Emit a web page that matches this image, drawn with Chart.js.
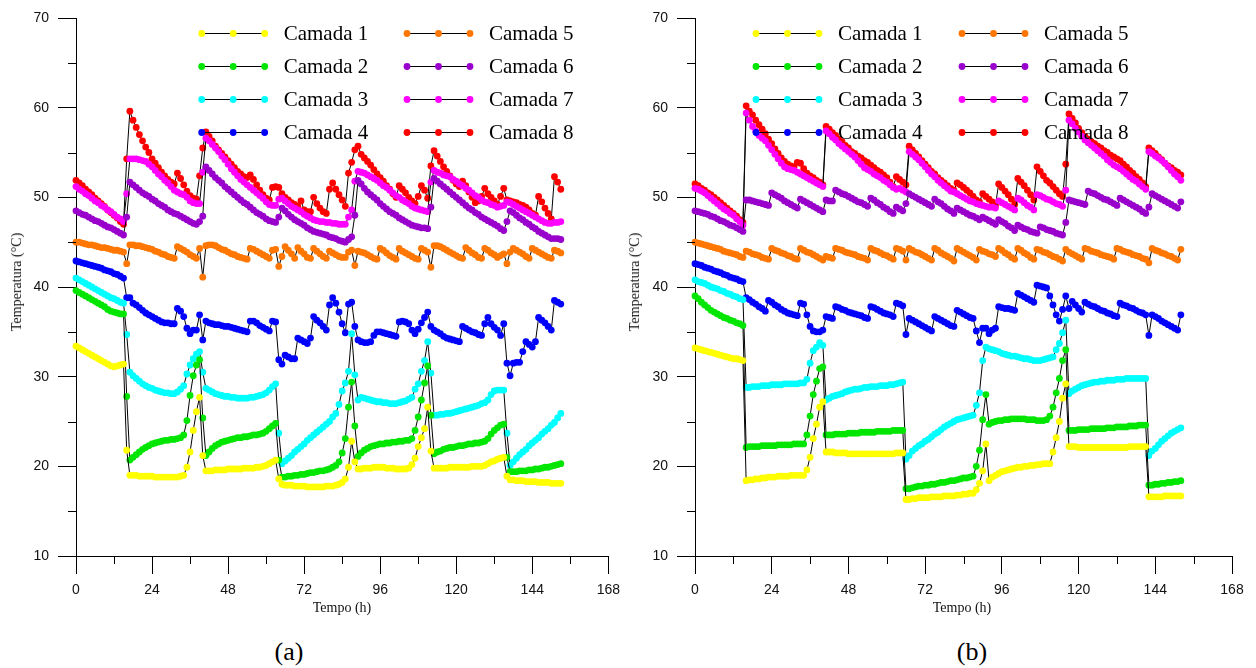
<!DOCTYPE html>
<html lang="pt">
<head>
    <meta charset="UTF-8">
    <title>Temperatura das camadas</title>
    <!-- Chart.js -->
    <script src="https://cdn.jsdelivr.net/npm/chart.js"></script>
    <style>
        body {
            margin: 0;
            background-color: #ffffff;
        }
        #pagina {
            position: relative;
            width: 1256px;
            height: 668px;
            overflow: hidden;
            background: #ffffff;
        }
        .painel {
            position: absolute;
            top: 0;
            width: 628px;
            height: 620px;
        }
        #painelA { left: 0; }
        #painelB { left: 628px; }
        .titulo-y {
            position: absolute;
            top: 282px;
            font-family: "Liberation Serif", "Times New Roman", serif;
            font-size: 14px;
            color: #111;
            white-space: nowrap;
            transform: translate(-50%, -50%) rotate(-90deg);
        }
        .titulo-x {
            position: absolute;
            top: 608px;
            font-family: "Liberation Serif", "Times New Roman", serif;
            font-size: 14px;
            color: #111;
            white-space: nowrap;
            transform: translate(-50%, -50%);
        }
        .legenda-painel {
            position: absolute;
            top: 652px;
            font-family: "Liberation Serif", "Times New Roman", serif;
            font-size: 26px;
            color: #000;
            transform: translate(-50%, -50%);
        }
    </style>
</head>
<body>
<div id="pagina">
    <div class="painel" id="painelA"><canvas id="graficoA" width="628" height="620"></canvas></div>
    <div class="painel" id="painelB"><canvas id="graficoB" width="628" height="620"></canvas></div>

    <div class="titulo-y" style="left:17px">Temperatura (°C)</div>
    <div class="titulo-y" style="left:635px">Temperatura (°C)</div>
    <div class="titulo-x" style="left:342px">Tempo (h)</div>
    <div class="titulo-x" style="left:962px">Tempo (h)</div>
    <div class="legenda-painel" style="left:289px">(a)</div>
    <div class="legenda-painel" style="left:972px">(b)</div>
</div>

<script>
    // Tempo (h) de cada leitura
    const horas = [0,1,2,3,4,5,6,7,8,9,10,11,12,13,14,15,16,17,18,19,20,21,22,23,24,25,26,27,28,29,
        30,31,32,33,34,35,36,37,38,39,40,41,42,43,44,45,46,47,48,49,50,51,52,53,54,55,56,57,58,59,
        60,61,62,63,64,65,66,67,68,69,70,71,72,73,74,75,76,77,78,79,80,81,82,83,84,85,86,87,88,89,
        90,91,92,93,94,95,96,97,98,99,100,101,102,103,104,105,106,107,108,109,110,111,112,113,114,
        115,116,117,118,119,120,121,122,123,124,125,126,127,128,129,130,131,132,133,134,135,136,137,
        138,139,140,141,142,143,144,145,146,147,148,149,150,151,152,153];

    const nomes = ['Camada 1', 'Camada 2', 'Camada 3', 'Camada 4', 'Camada 5', 'Camada 6', 'Camada 7', 'Camada 8'];
    const cores = ['#ffff00', '#00e600', '#00ffff', '#0000ff', '#ff7700', '#9900cc', '#ff00ff', '#ff0000'];
    const ticksX = [0, 24, 48, 72, 96, 120, 144, 168];
    const ticksY = [10, 20, 30, 40, 50, 60, 70];

    // ---------- Painel (a) ----------
    const a_camada1 = [33.4,33.2,33.0,32.8,32.6,32.4,32.2,32.0,31.8,31.6,31.4,31.2,31.1,31.2,31.3,31.4,
        21.8,19.0,
        19.0,19.0,18.9,18.9,18.9,18.9,18.9,18.8,18.8,18.8,18.8,18.8,18.8,18.8,18.8,18.9,19.0,
        19.9,21.6,24.0,26.1,27.7,21.2,19.5,
        19.5,19.5,19.6,19.6,19.6,19.6,19.7,19.7,19.7,19.7,19.7,19.8,19.8,19.8,19.8,19.9,19.9,20.0,20.1,20.3,20.5,20.7,
        18.6,18.0,
        17.9,17.9,17.9,17.8,17.8,17.8,17.8,17.7,17.7,17.7,17.7,17.7,17.7,17.8,17.8,17.8,17.9,18.0,18.2,
        18.6,19.9,22.8,20.5,19.7,
        19.7,19.8,19.8,19.8,19.9,19.9,19.9,19.9,19.8,19.8,19.8,19.7,19.7,19.7,19.7,19.8,
        20.2,20.9,22.2,23.2,24.2,26.6,21.7,19.8,
        19.8,19.8,19.8,19.8,19.9,19.9,19.9,19.9,19.9,19.9,19.9,20.0,20.0,20.0,20.0,20.1,20.3,20.5,20.6,20.8,20.9,
        21.0,18.9,18.5,
        18.5,18.4,18.4,18.4,18.3,18.3,18.3,18.3,18.2,18.2,18.2,18.2,18.1,18.1,18.1,18.1];

    const a_camada2 = [39.6,39.4,39.2,39.0,38.8,38.6,38.4,38.2,38.0,37.8,37.5,37.3,37.2,37.1,37.0,37.0,
        27.8,20.7,
        21.0,21.3,21.6,21.9,22.1,22.3,22.5,22.6,22.7,22.8,22.9,22.9,23.0,23.0,23.1,23.2,23.5,
        25.1,27.9,30.1,31.3,31.9,25.4,21.2,
        21.6,22.0,22.3,22.5,22.7,22.8,22.9,23.0,23.1,23.2,23.2,23.3,23.3,23.4,23.5,23.5,23.6,23.7,23.9,24.2,24.5,24.8,
        20.7,18.8,
        18.8,18.9,18.9,19.0,19.0,19.1,19.1,19.2,19.3,19.3,19.4,19.5,19.5,19.6,19.7,19.9,20.1,20.5,21.5,
        23.1,26.6,29.4,24.5,21.1,
        21.5,21.8,22.0,22.2,22.3,22.4,22.5,22.5,22.6,22.6,22.7,22.7,22.8,22.8,22.9,22.9,
        23.1,24.0,25.5,27.4,29.3,31.2,25.7,21.4,
        21.6,21.7,21.9,22.0,22.1,22.1,22.2,22.3,22.3,22.4,22.5,22.5,22.6,22.6,22.7,22.8,23.1,23.6,24.0,24.3,24.6,
        24.7,21.0,19.4,
        19.4,19.4,19.5,19.5,19.5,19.6,19.6,19.7,19.7,19.8,19.9,19.9,20.0,20.1,20.2,20.3];

    const a_camada3 = [41.0,40.8,40.6,40.4,40.2,40.0,39.8,39.6,39.4,39.2,39.0,38.8,38.7,38.5,38.3,38.2,
        34.7,30.5,
        30.1,29.8,29.5,29.2,29.0,28.8,28.7,28.5,28.4,28.3,28.2,28.2,28.1,28.1,28.3,28.6,29.0,
        30.3,31.3,32.0,32.5,32.8,30.5,28.7,
        28.5,28.3,28.1,28.0,27.9,27.8,27.8,27.7,27.7,27.6,27.6,27.6,27.6,27.7,27.7,27.8,27.9,28.0,28.2,28.5,28.9,29.2,
        23.7,20.3,
        20.6,20.9,21.2,21.6,21.9,22.2,22.5,22.9,23.2,23.5,23.8,24.1,24.4,24.7,25.0,25.5,
        25.9,26.9,28.4,29.3,30.6,34.8,30.2,27.4,
        27.7,27.6,27.5,27.4,27.3,27.2,27.2,27.1,27.1,27.0,27.0,27.0,27.1,27.2,27.3,27.5,
        27.7,28.6,29.2,30.6,31.8,33.9,30.4,25.7,
        25.7,25.8,25.8,25.9,25.9,26.0,26.1,26.2,26.3,26.4,26.5,26.6,26.7,26.8,27.0,27.1,27.4,28.0,28.4,28.5,28.5,28.5,
        23.7,20.1,
        20.5,20.9,21.3,21.6,21.9,22.3,22.6,22.9,23.2,23.6,23.9,24.2,24.6,24.9,25.4,25.9];

    const a_camada4 = [42.9,42.8,42.7,42.6,42.5,42.4,42.3,42.2,42.1,41.9,41.8,41.7,41.5,41.4,41.2,41.0,
        38.8,38.8,
        38.2,38.0,37.7,37.4,37.1,36.9,36.7,36.5,36.3,36.1,36.0,36.0,35.9,35.9,
        37.6,37.3,36.7,35.4,34.8,35.2,35.2,36.9,34.1,36.2,
        36.0,35.9,35.8,35.8,35.7,35.6,35.6,35.5,35.4,35.3,35.2,35.1,35.0,36.2,36.2,36.0,35.7,35.5,35.3,35.1,
        36.2,36.1,
        31.9,31.4,
        32.4,32.2,32.0,32.0,34.3,34.1,33.9,33.7,34.3,36.7,36.3,36.0,35.6,35.2,
        38.0,38.8,38.2,37.2,35.9,34.9,38.1,38.3,35.6,34.1,
        33.9,33.8,33.8,33.9,34.6,35.0,35.0,34.9,34.8,34.7,34.6,34.5,
        36.1,36.2,36.1,35.9,35.2,34.8,35.3,36.0,36.6,37.2,35.6,35.2,
        35.0,34.8,34.5,34.3,34.2,34.1,34.0,33.9,
        35.6,35.4,35.2,35.0,34.9,34.7,34.6,35.9,36.6,35.9,35.5,35.2,34.6,35.9,
        31.5,30.1,31.5,31.6,31.6,32.8,33.9,33.6,33.3,33.9,36.6,36.3,36.0,35.6,35.2,38.5,38.3,38.1];

    const a_camada5 = [45.0,45.0,44.9,44.8,44.7,44.7,44.6,44.5,44.4,44.4,44.3,44.2,44.1,44.1,44.0,43.9,
        42.6,44.7,
        44.7,44.6,44.6,44.5,44.4,44.3,44.2,44.0,43.9,43.7,43.6,43.4,43.3,43.2,
        44.5,44.3,44.1,43.9,43.6,43.4,43.2,
        44.3,41.1,44.6,
        44.7,44.7,44.6,44.4,44.2,44.1,43.9,43.7,43.6,43.4,43.3,43.2,43.1,
        44.3,44.2,44.0,43.8,43.6,43.4,43.2,
        44.1,44.2,42.3,43.4,
        44.5,44.1,43.7,43.2,
        44.4,44.0,43.7,43.3,
        43.2,44.3,44.0,43.7,43.4,43.2,
        44.0,43.8,43.6,43.4,43.3,43.3,43.9,44.1,42.4,44.0,
        43.9,43.8,43.6,43.4,43.2,43.1,
        44.3,44.1,43.8,43.5,43.3,43.1,
        44.3,44.0,43.8,43.6,43.4,43.2,43.1,
        44.3,44.1,43.9,42.2,
        44.6,44.6,44.5,44.3,44.1,43.9,43.7,43.5,43.3,43.2,
        44.4,44.1,43.8,43.6,43.3,43.2,
        44.3,44.1,43.8,43.6,43.3,43.5,43.7,
        42.6,43.9,44.3,
        44.1,43.9,43.7,43.4,43.2,
        44.3,44.1,43.9,43.7,43.5,43.3,43.2,
        44.1,44.0,43.8];

    const a_camada6 = [48.5,48.3,48.1,48.0,47.8,47.6,47.4,47.3,47.1,46.9,46.7,46.6,46.4,46.2,46.0,45.8,
        47.8,51.7,
        51.4,51.1,50.8,50.5,50.3,50.1,49.8,49.6,49.3,49.1,48.9,48.6,48.4,48.2,48.1,47.9,47.7,47.5,47.3,47.1,47.0,
        47.3,47.9,53.4,
        53.0,52.6,52.2,51.9,51.6,51.2,50.9,50.6,50.3,50.0,49.7,49.4,49.2,48.9,48.6,48.3,48.1,47.9,47.6,47.4,47.3,47.2,
        47.8,48.8,
        48.5,48.1,47.8,47.5,47.3,47.1,46.9,46.6,46.4,46.2,46.1,46.0,45.9,45.8,45.6,45.5,45.4,45.2,45.1,45.0,45.3,45.6,
        48.0,51.9,
        51.5,51.0,50.6,50.3,50.0,49.7,49.3,49.0,48.7,48.4,48.2,48.0,47.7,47.5,47.3,47.1,46.9,46.8,46.7,46.6,46.6,46.5,
        48.9,52.1,
        51.8,51.5,51.2,50.9,50.6,50.3,50.0,49.7,49.4,49.1,48.8,48.6,48.3,48.1,47.8,47.6,47.4,47.2,47.0,46.8,46.5,46.3,
        47.3,48.5,
        48.3,48.0,47.7,47.5,47.2,47.0,46.7,46.5,46.2,46.0,45.8,45.6,45.4,45.4,45.4,45.3];

    const a_camada7 = [51.2,50.9,50.7,50.4,50.2,49.9,49.6,49.4,49.1,48.9,48.6,48.4,48.1,47.8,47.6,47.3,
        50.4,54.3,
        54.3,54.3,54.2,54.1,54.0,53.7,53.4,53.0,52.6,52.3,51.9,51.6,51.2,50.8,50.6,50.4,50.3,50.0,49.6,49.4,49.3,49.3,
        52.8,56.6,
        56.3,55.9,55.5,55.1,54.6,54.2,53.7,53.2,52.8,52.4,52.0,51.7,51.4,51.1,50.8,50.5,50.2,49.9,49.5,49.2,49.1,49.1,
        49.8,49.9,
        49.6,49.3,49.0,48.8,48.6,48.4,48.1,47.9,47.7,47.5,47.4,47.3,47.3,47.2,47.2,47.1,47.1,47.0,47.0,47.0,
        47.8,48.6,51.8,52.9,
        52.8,52.7,52.5,52.3,52.1,51.9,51.6,51.3,51.1,50.8,50.5,50.2,50.0,49.7,49.5,49.3,49.0,48.8,48.7,48.6,48.5,48.4,
        51.7,53.0,
        52.8,52.7,52.5,52.4,52.3,52.0,51.8,51.5,51.3,51.0,50.8,50.5,50.2,50.0,49.7,49.5,49.4,49.2,49.1,48.9,49.0,49.1,
        49.5,
        49.4,49.2,49.0,48.8,48.6,48.4,48.2,48.0,47.8,47.6,47.4,47.2,47.1,47.1,47.2,47.2,47.3];

    const a_camada8 = [51.9,51.6,51.3,50.9,50.6,50.3,49.9,49.6,49.3,49.0,48.6,48.3,48.0,47.7,47.3,47.0,
        54.3,59.6,
        58.6,57.8,57.0,56.3,55.6,55.0,54.3,53.8,53.3,52.8,52.4,52.0,51.7,51.5,
        52.7,52.1,51.4,50.7,50.2,49.9,49.8,
        52.4,55.5,57.3,
        56.8,56.3,55.7,55.3,54.9,54.5,54.1,53.7,53.3,52.9,52.6,52.3,52.2,52.5,52.0,51.4,50.8,50.3,49.9,49.7,
        51.1,51.2,51.1,50.4,
        50.0,49.7,49.4,49.2,49.0,49.6,
        48.6,48.4,48.4,50.0,49.3,48.8,48.4,48.2,
        50.9,51.6,50.9,50.3,49.7,49.0,
        52.7,53.9,55.3,55.7,
        54.8,54.4,54.0,53.6,53.1,52.6,52.2,51.8,51.3,50.9,50.4,50.0,
        51.3,50.9,50.5,50.0,49.6,49.3,
        50.1,51.3,50.8,49.9,53.5,55.2,
        54.6,54.0,53.4,52.9,52.4,51.9,51.5,51.2,
        51.8,51.3,50.6,50.0,49.4,
        49.6,50.1,51.0,50.4,50.0,49.6,49.2,
        50.1,51.0,49.7,
        49.6,49.5,49.4,49.2,49.1,48.9,48.6,48.2,48.0,
        50.1,49.5,48.8,48.2,47.6,
        52.3,51.7,50.9];

    // ---------- Painel (b) ----------
    const b_camada1 = [33.2,33.1,33.0,32.9,32.8,32.7,32.6,32.5,32.4,32.3,32.2,32.1,32.0,32.0,31.9,31.8,
        18.4,18.5,18.5,18.6,18.6,18.7,18.7,18.8,18.8,18.8,18.9,18.9,18.9,18.9,19.0,19.0,19.0,19.0,19.0,
        19.6,21.0,23.1,24.7,26.6,27.2,21.6,
        21.6,21.6,21.5,21.5,21.5,21.5,21.4,21.4,21.4,21.4,21.4,21.4,21.4,21.4,21.4,21.4,21.4,21.4,21.4,21.4,21.4,21.5,21.5,21.5,
        16.3,
        16.3,16.4,16.4,16.5,16.5,16.5,16.5,16.6,16.6,16.6,16.6,16.7,16.7,16.7,16.7,16.8,16.8,16.9,16.9,17.0,17.0,
        17.4,18.1,19.5,22.5,18.4,
        18.8,19.0,19.2,19.4,19.5,19.6,19.7,19.8,19.9,19.9,20.0,20.0,20.1,20.1,20.2,20.2,20.3,20.3,
        20.3,21.6,23.2,25.0,27.6,29.2,22.2,
        22.2,22.2,22.1,22.1,22.1,22.1,22.1,22.1,22.1,22.1,22.1,22.1,22.1,22.1,22.1,22.1,22.1,22.1,22.2,22.2,22.2,22.2,22.2,22.2,
        16.6,
        16.6,16.6,16.6,16.6,16.7,16.7,16.7,16.7,16.7,16.7];

    const b_camada2 = [39.0,38.7,38.3,38.0,37.7,37.4,37.2,37.0,36.8,36.6,36.5,36.3,36.2,36.0,35.9,35.7,
        22.1,22.2,22.2,22.2,22.2,22.3,22.3,22.3,22.3,22.3,22.4,22.4,22.4,22.4,22.4,22.5,22.5,22.5,22.5,
        23.5,25.6,28.0,29.5,30.9,31.1,23.5,
        23.5,23.5,23.6,23.6,23.6,23.6,23.7,23.7,23.7,23.7,23.8,23.8,23.8,23.8,23.8,23.9,23.9,23.9,23.9,23.9,24.0,24.0,24.0,24.0,
        17.5,
        17.5,17.6,17.7,17.8,17.8,17.9,17.9,18.0,18.0,18.1,18.2,18.2,18.3,18.4,18.4,18.5,18.6,18.7,18.7,18.8,18.9,
        20.0,21.8,25.2,28.0,24.7,
        24.9,25.0,25.1,25.1,25.2,25.2,25.3,25.3,25.3,25.3,25.3,25.2,25.2,25.2,25.1,25.1,25.1,25.2,
        25.6,26.6,28.2,29.8,31.8,33.0,24.0,
        24.0,24.0,24.1,24.1,24.1,24.1,24.2,24.2,24.2,24.2,24.2,24.3,24.3,24.3,24.4,24.4,24.4,24.4,24.5,24.5,24.5,24.6,24.6,24.6,
        17.9,
        17.9,18.0,18.0,18.1,18.1,18.2,18.2,18.3,18.3,18.4];

    const b_camada3 = [40.8,40.6,40.5,40.4,40.2,40.0,39.9,39.8,39.6,39.5,39.3,39.2,39.0,38.9,38.7,38.6,
        28.8,28.8,28.9,28.9,28.9,29.0,29.0,29.0,29.1,29.1,29.1,29.1,29.2,29.2,29.2,29.2,29.2,29.3,29.3,
        29.7,31.5,32.9,33.3,33.8,33.5,27.4,
        27.6,27.8,27.9,28.0,28.1,28.3,28.4,28.5,28.6,28.6,28.7,28.8,28.8,28.9,28.9,28.9,29.0,29.0,29.0,29.1,29.1,29.2,29.3,29.4,
        20.8,
        21.2,21.7,22.0,22.3,22.5,22.8,23.0,23.3,23.6,23.8,24.1,24.4,24.6,24.8,25.0,25.2,25.3,25.4,25.5,25.6,25.7,
        26.8,28.2,31.8,33.3,33.1,
        33.0,32.9,32.8,32.6,32.5,32.4,32.3,32.3,32.2,32.1,32.0,32.0,31.9,31.8,31.8,31.8,31.9,32.0,
        32.1,32.2,33.0,33.7,34.9,36.3,28.1,
        28.4,28.6,28.8,29.0,29.1,29.2,29.3,29.4,29.4,29.5,29.5,29.6,29.6,29.6,29.7,29.7,29.7,29.8,29.8,29.8,29.8,29.8,29.8,29.8,
        21.2,
        21.7,22.0,22.4,22.8,23.1,23.4,23.7,23.9,24.1,24.3];

    const b_camada4 = [42.6,42.5,42.4,42.2,42.1,42.0,41.8,41.7,41.6,41.4,41.3,41.1,41.0,40.9,40.7,40.6,
        38.8,38.6,38.3,38.1,37.8,37.6,37.3,
        38.5,38.3,38.0,37.8,37.5,37.3,37.1,37.0,36.9,36.8,
        38.2,38.1,36.9,35.6,35.1,35.0,35.0,35.2,36.7,
        36.6,36.5,37.8,37.7,37.5,37.4,37.2,37.1,37.0,36.9,36.8,36.6,36.5,
        37.8,37.7,37.5,37.3,37.1,37.0,36.9,36.7,
        38.2,38.1,37.9,
        34.7,36.5,
        36.3,36.1,35.9,35.7,35.5,35.3,35.1,
        36.7,36.5,36.3,36.1,35.9,35.7,35.6,
        37.4,37.2,37.0,36.8,36.6,36.5,
        35.1,33.8,35.4,35.4,34.8,35.2,35.4,
        37.8,37.7,37.6,37.6,37.5,37.4,
        39.3,39.1,38.9,38.7,38.5,38.3,
        40.2,40.1,40.0,39.9,
        39.0,38.0,36.9,36.2,37.5,39.0,37.6,
        38.4,38.0,37.6,37.2,
        38.3,38.1,37.9,37.8,37.6,37.4,37.3,37.1,37.0,36.8,36.7,
        38.2,38.0,37.9,37.7,37.6,37.4,37.2,37.1,36.9,
        34.6,36.9,
        36.7,36.5,36.2,36.0,35.8,35.6,35.4,35.2,
        36.9];

    const b_camada5 = [45.0,44.9,44.8,44.7,44.6,44.5,44.4,44.3,44.2,44.0,43.9,43.8,43.7,43.6,43.4,43.3,
        44.0,43.9,43.7,43.6,43.5,43.3,43.2,43.1,
        44.3,44.1,44.0,43.8,43.7,43.5,43.4,43.2,43.1,
        44.3,44.1,43.9,43.8,43.6,43.4,43.2,43.0,
        43.4,43.3,43.2,
        44.3,44.2,44.1,43.9,43.8,43.7,43.6,43.4,43.3,43.2,43.0,
        44.3,44.1,44.0,43.8,43.6,43.5,43.3,43.1,
        44.3,44.2,44.0,
        43.0,
        44.3,44.1,43.9,43.8,43.6,43.4,43.2,43.0,
        44.3,44.1,43.8,43.6,43.4,43.2,42.9,
        44.3,44.1,43.9,43.7,43.5,43.3,43.0,
        44.2,44.0,43.9,43.7,43.6,43.4,
        44.3,44.1,43.8,43.6,43.3,43.1,
        44.3,44.1,43.8,43.6,43.3,43.1,
        44.2,44.1,43.9,43.8,43.6,43.4,43.3,43.1,42.9,
        44.2,43.9,43.7,43.5,43.3,43.1,
        44.3,44.2,44.0,43.9,43.8,43.6,43.5,43.4,43.3,43.1,
        44.3,44.2,44.0,43.9,43.8,43.6,43.5,43.4,43.2,43.1,
        42.7,
        44.3,44.1,44.0,43.8,43.7,43.5,43.4,43.2,43.0,
        44.2];

    const b_camada6 = [48.5,48.4,48.3,48.2,48.1,47.9,47.8,47.6,47.4,47.3,47.1,46.9,46.8,46.6,46.4,46.2,
        49.7,49.7,49.6,49.5,49.4,49.3,49.2,49.1,
        50.5,50.3,50.1,49.9,49.6,49.4,49.2,49.0,48.8,
        49.8,49.6,49.4,49.2,49.0,48.8,48.6,48.4,
        49.7,49.6,49.6,
        50.8,50.6,50.4,50.3,50.1,49.9,49.7,49.5,49.4,49.2,49.0,
        49.9,49.7,49.4,49.2,48.9,48.7,48.4,48.2,
        48.9,48.7,48.5,
        49.3,50.4,
        50.2,50.0,49.8,49.6,49.4,49.2,49.0,
        49.8,49.5,49.3,49.0,48.7,48.5,48.2,
        48.8,48.6,48.4,48.2,48.0,47.9,47.7,47.5,
        47.8,47.6,47.4,47.2,47.0,
        47.5,47.3,47.1,46.8,46.6,46.3,
        46.9,46.7,46.5,46.4,46.2,46.1,
        46.0,46.7,46.6,46.4,46.3,46.2,46.0,45.9,45.8,
        47.2,49.7,
        49.6,49.5,49.4,49.3,49.2,
        50.7,50.5,50.4,50.2,50.0,49.8,49.7,49.5,49.3,49.1,
        49.9,49.7,49.5,49.3,49.1,48.9,48.7,48.4,48.2,
        48.9,50.4,
        50.2,50.0,49.8,49.6,49.4,49.2,49.0,48.8,
        49.5];

    const b_camada7 = [51.0,50.9,50.7,50.5,50.2,49.9,49.6,49.3,49.0,48.7,48.5,48.2,48.0,47.6,47.3,46.9,
        59.4,58.6,57.9,57.4,56.9,56.6,56.3,55.8,55.3,54.8,54.3,53.8,53.4,53.2,53.1,53.0,52.8,52.6,52.4,52.2,52.0,51.8,51.6,51.4,51.2,
        57.4,57.1,56.7,56.4,56.0,55.7,55.4,55.1,54.8,54.5,54.1,53.7,53.3,53.1,52.9,52.6,52.4,52.2,51.9,51.7,51.4,51.1,50.9,51.0,50.8,
        50.6,55.1,
        54.8,54.5,54.2,53.8,53.4,53.0,52.6,52.3,51.9,51.6,51.3,51.0,50.7,50.6,50.4,
        50.2,50.0,49.8,49.6,49.5,49.3,49.2,49.1,49.0,48.9,48.9,48.8,
        49.6,49.4,49.2,49.0,48.8,48.6,
        49.9,49.7,49.4,49.1,48.9,48.6,
        50.3,50.2,50.0,49.8,49.7,49.5,49.3,49.2,49.0,
        50.8,58.6,
        58.2,57.7,57.3,56.8,56.4,56.1,55.8,55.5,55.2,54.9,54.6,54.2,53.9,53.6,53.4,53.2,52.9,52.6,52.3,52.0,51.8,51.5,51.2,50.9,
        55.1,
        54.9,54.6,54.4,54.1,53.8,53.4,53.0,52.6,52.3,51.9];

    const b_camada8 = [51.5,51.3,51.0,50.8,50.5,50.3,50.0,49.7,49.4,49.1,48.8,48.5,48.2,47.9,47.5,47.2,
        60.2,59.6,59.2,58.6,58.1,57.6,57.1,56.5,56.0,55.4,54.9,54.4,54.0,53.7,53.5,53.4,53.9,53.8,53.2,52.7,52.4,52.2,51.9,51.7,51.4,
        57.9,57.6,57.2,56.9,56.5,56.2,55.8,55.5,55.1,54.9,54.6,54.4,54.1,53.9,53.6,53.3,53.0,52.8,52.5,52.2,51.7,51.2,52.3,52.0,51.7,
        51.4,55.7,
        55.3,54.9,54.5,54.1,53.7,53.3,52.9,52.6,52.2,51.9,51.6,51.3,51.0,50.8,51.6,
        51.4,51.1,50.8,50.5,50.1,49.7,49.5,
        50.4,50.1,49.8,49.5,49.1,
        51.5,51.1,50.7,50.3,49.8,49.2,
        52.1,51.7,51.3,50.8,50.3,49.7,
        53.4,52.9,52.4,51.9,51.6,51.2,50.8,50.4,50.1,
        53.7,59.3,
        58.8,58.3,57.7,57.2,56.8,56.5,56.2,56.0,55.7,55.5,55.2,55.0,54.7,54.5,54.3,54.1,53.7,53.4,53.0,52.7,52.3,52.0,51.6,51.2,
        55.5,
        55.2,54.9,54.5,54.2,53.8,53.5,53.3,53.0,52.8,52.5];

    const seriesA = [a_camada1, a_camada2, a_camada3, a_camada4, a_camada5, a_camada6, a_camada7, a_camada8];
    const seriesB = [b_camada1, b_camada2, b_camada3, b_camada4, b_camada5, b_camada6, b_camada7, b_camada8];

    function montarDatasets(series) {
        return series.map((valores, i) => ({
            label: nomes[i],
            data: valores.map((v, k) => ({ x: horas[k], y: v })),
            borderColor: '#000000',
            borderWidth: 1,
            pointRadius: 3.4,
            pointBackgroundColor: cores[i],
            pointBorderWidth: 0,
            pointHoverRadius: 3.4,
            tension: 0,
            clip: false
        }));
    }

    // Marcas menores dos eixos (12 h e 5 °C)
    const marcasMenores = {
        id: 'marcasMenores',
        afterDraw(chart) {
            const { ctx, scales: { x, y } } = chart;
            ctx.save();
            ctx.strokeStyle = '#000';
            ctx.lineWidth = 1;
            ctx.beginPath();
            x.ticks.forEach(t => {
                if (!ticksX.includes(t.value)) {
                    const px = Math.round(x.getPixelForValue(t.value)) + 0.5;
                    ctx.moveTo(px, y.bottom);
                    ctx.lineTo(px, y.bottom + 8);
                }
            });
            y.ticks.forEach(t => {
                if (!ticksY.includes(t.value)) {
                    const py = Math.round(y.getPixelForValue(t.value)) + 0.5;
                    ctx.moveTo(x.left, py);
                    ctx.lineTo(x.left - 8, py);
                }
            });
            ctx.stroke();
            ctx.restore();
        }
    };

    // Legenda em duas colunas com linha e três pontos
    const legendaCamadas = {
        id: 'legendaCamadas',
        afterDatasetsDraw(chart, args, opts) {
            const ctx = chart.ctx;
            ctx.save();
            chart.data.datasets.forEach((ds, i) => {
                const col = Math.floor(i / 4), lin = i % 4;
                const x0 = opts.colunas[col], x1 = x0 + 63;
                const yy = opts.topo + lin * 33;
                ctx.strokeStyle = '#000';
                ctx.lineWidth = 1;
                ctx.beginPath();
                ctx.moveTo(x0, yy + 0.5);
                ctx.lineTo(x1, yy + 0.5);
                ctx.stroke();
                ctx.fillStyle = cores[i];
                [x0, (x0 + x1) / 2, x1].forEach(px => {
                    ctx.beginPath();
                    ctx.arc(px, yy + 0.5, 3.4, 0, Math.PI * 2);
                    ctx.fill();
                });
                ctx.fillStyle = '#000';
                ctx.font = '21px "Liberation Serif", "Times New Roman", serif';
                ctx.textBaseline = 'middle';
                ctx.fillText(ds.label, x0 + 82, yy + 1);
            });
            ctx.restore();
        }
    };

    function opcoes(larguraY, margemDireita, colunas) {
        return {
            responsive: false,
            animation: false,
            devicePixelRatio: 1,
            events: [],
            layout: { padding: { top: 18, right: margemDireita, left: 0, bottom: 0 } },
            plugins: {
                legend: { display: false },
                tooltip: { enabled: false },
                legendaCamadas: { colunas: colunas, topo: 33 }
            },
            scales: {
                x: {
                    type: 'linear',
                    min: 0,
                    max: 168,
                    border: { display: true, color: '#000', width: 1 },
                    grid: {
                        drawOnChartArea: false,
                        drawTicks: true,
                        tickLength: 18,
                        tickColor: c => ticksX.includes(c.tick.value) ? '#000' : 'rgba(0,0,0,0)'
                    },
                    ticks: {
                        stepSize: 12,
                        autoSkip: false,
                        maxRotation: 0,
                        padding: 8,
                        color: '#111',
                        font: { family: '"Liberation Sans", Arial, sans-serif', size: 14 },
                        callback: v => ticksX.includes(v) ? String(v) : ''
                    },
                    afterFit: s => { s.height = 64; }
                },
                y: {
                    type: 'linear',
                    min: 10,
                    max: 70,
                    border: { display: true, color: '#000', width: 1 },
                    grid: {
                        drawOnChartArea: false,
                        drawTicks: true,
                        tickLength: 18,
                        tickColor: c => ticksY.includes(c.tick.value) ? '#000' : 'rgba(0,0,0,0)'
                    },
                    ticks: {
                        stepSize: 5,
                        autoSkip: false,
                        padding: 9,
                        color: '#111',
                        font: { family: '"Liberation Sans", Arial, sans-serif', size: 14 },
                        callback: v => ticksY.includes(v) ? String(v) : ''
                    },
                    afterFit: s => { s.width = larguraY; }
                }
            }
        };
    }

    new Chart(document.getElementById('graficoA').getContext('2d'), {
        type: 'line',
        data: { datasets: montarDatasets(seriesA) },
        options: opcoes(76, 15, [201.7, 407]),
        plugins: [marcasMenores, legendaCamadas]
    });

    new Chart(document.getElementById('graficoB').getContext('2d'), {
        type: 'line',
        data: { datasets: montarDatasets(seriesB) },
        options: opcoes(67, 24, [128, 334]),
        plugins: [marcasMenores, legendaCamadas]
    });
</script>
</body>
</html>
